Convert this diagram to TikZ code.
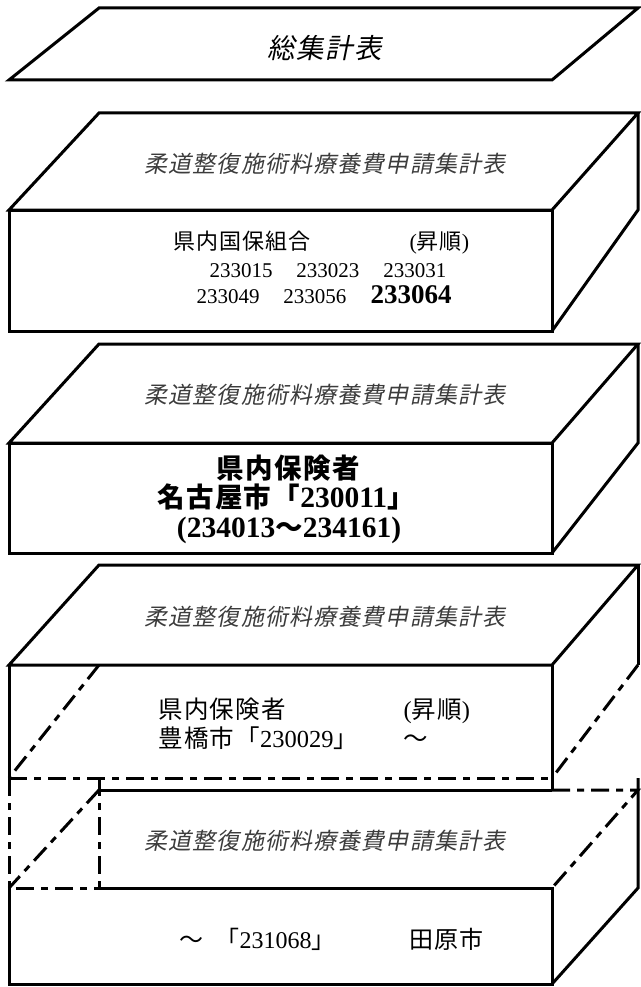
\documentclass[tikz,border=0pt]{standalone}
\usepackage{fontspec}
\setmainfont{Liberation Serif}
\newfontfamily\jp[LetterSpace=5]{Noto Sans CJK JP}
\newfontfamily\jpit[LetterSpace=5,FakeSlant=0.2]{Noto Sans CJK JP}
\newcommand{\numtxt}[1]{{\rmfamily #1}}
\newcommand{\bignum}[1]{{\rmfamily\fontsize{29.5}{32}\selectfont #1}}
\definecolor{titlegray}{RGB}{60,60,60}
\tikzstyle{every path}=[line width=3pt]
\tikzstyle{hidden}=[dash pattern=on 18pt off 7pt on 7pt off 7pt]
\tikzstyle{sheettitle}=[text=titlegray, anchor=base, inner sep=0pt, font=\jpit\fontsize{23}{26}\selectfont]
\tikzstyle{boxtext}=[inner sep=0pt, anchor=base west]

\begin{document}
\begin{tikzpicture}[x=1pt,y=-1pt]
            \useasboundingbox (0,0) rectangle (640,987);
            \draw (99,8) -- (638,8) -- (552,80) -- (9,80) -- cycle;
            \node[sheettitle, text=black, font=\jpit\fontsize{27.5}{30}\selectfont] (grandtotal) at (325,59) {総集計表};
            \draw (99,113) -- (638,113) -- (552,210) -- (9,210) -- cycle;
            \draw (9,210) rectangle (552,331);
            \draw (638,113) -- (638,210) -- (552,331);
            \node[sheettitle] (unionsheet) at (325,173) {柔道整復施術料療養費申請集計表};
            \node[boxtext, font=\jp\fontsize{22}{26}\selectfont] (unionhead) at (172,249) {県内国保組合};
            \node[boxtext, font=\jp\fontsize{22}{26}\selectfont] (unionorder) at (408,249) {\numtxt{(}昇順\numtxt{)}};
            \node[boxtext, anchor=base, font=\fontsize{21}{24}\selectfont] (unionrowa) at (328,277) {233015\hspace{24pt}233023\hspace{24pt}233031};
            \node[boxtext, anchor=base, font=\fontsize{21}{24}\selectfont] (unionrowb) at (324,303) {233049\hspace{24pt}233056\hspace{24pt}{\bfseries\fontsize{27}{30}\selectfont 233064}};
            \draw (99,344) -- (638,344) -- (552,443) -- (9,443) -- cycle;
            \draw (9,443) rectangle (552,553);
            \draw (638,344) -- (638,443) -- (552,553);
            \node[sheettitle] (nagoyasheet) at (325,403) {柔道整復施術料療養費申請集計表};
            \node[boxtext, anchor=base, font=\jp\bfseries\fontsize{27.5}{30}\selectfont] (nagoyahead) at (288,478) {県内保険者};
            \node[boxtext, anchor=base, font=\jp\bfseries\fontsize{27.5}{30}\selectfont] (nagoyacode) at (286,507) {名古屋市「\bignum{230011}」};
            \node[boxtext, anchor=base, font=\jp\bfseries\fontsize{27.5}{30}\selectfont] (nagoyarange) at (289,537) {\bignum{(234013}～\bignum{234161)}};
            \draw (99,565) -- (638,565) -- (552,665) -- (9,665) -- cycle;
            \draw (638,565) -- (638,665);
            \draw (9,665) -- (9,778);
            \draw (552,665) -- (552,790);
            \draw[hidden] (99,665) -- (9,778);
            \draw[hidden] (638,665) -- (552,778);
            \draw[hidden] (9,778) -- (552,778);
            \node[sheettitle] (toyohashisheet) at (325,625) {柔道整復施術料療養費申請集計表};
            \node[boxtext, font=\jp\fontsize{24.5}{28}\selectfont] (toyohashihead) at (157,718) {県内保険者};
            \node[boxtext, font=\jp\fontsize{24.5}{28}\selectfont] (toyohashiorder) at (402,718) {\numtxt{(}昇順\numtxt{)}};
            \node[boxtext, font=\jp\fontsize{24.5}{28}\selectfont] (toyohashicode) at (157,747) {豊橋市「\numtxt{230029}」};
            \node[boxtext, font=\jp\fontsize{24.5}{28}\selectfont] (toyohashitilde) at (402,747) {～};
            \draw (99,790) -- (552,790);
            \draw[hidden] (552,790) -- (638,790) -- (552,888);
            \draw[hidden] (99,790) -- (9,888);
            \draw[hidden] (99,778) -- (99,888);
            \draw[hidden] (9,778) -- (9,888) -- (99,888);
            \draw (99,888) -- (552,888) -- (552,984) -- (9,984) -- (9,888);
            \draw (638,778) -- (638,888) -- (552,984);
            \node[sheettitle] (taharasheet) at (325,849) {柔道整復施術料療養費申請集計表};
            \node[boxtext, font=\jp\fontsize{24}{28}\selectfont] (taharatilde) at (178,948) {～};
            \node[boxtext, font=\jp\fontsize{24}{28}\selectfont] (taharacode) at (214,948) {「\numtxt{231068}」};
            \node[boxtext, font=\jp\fontsize{24}{28}\selectfont] (taharaname) at (408,948) {田原市};
        \end{tikzpicture}
\end{document}
